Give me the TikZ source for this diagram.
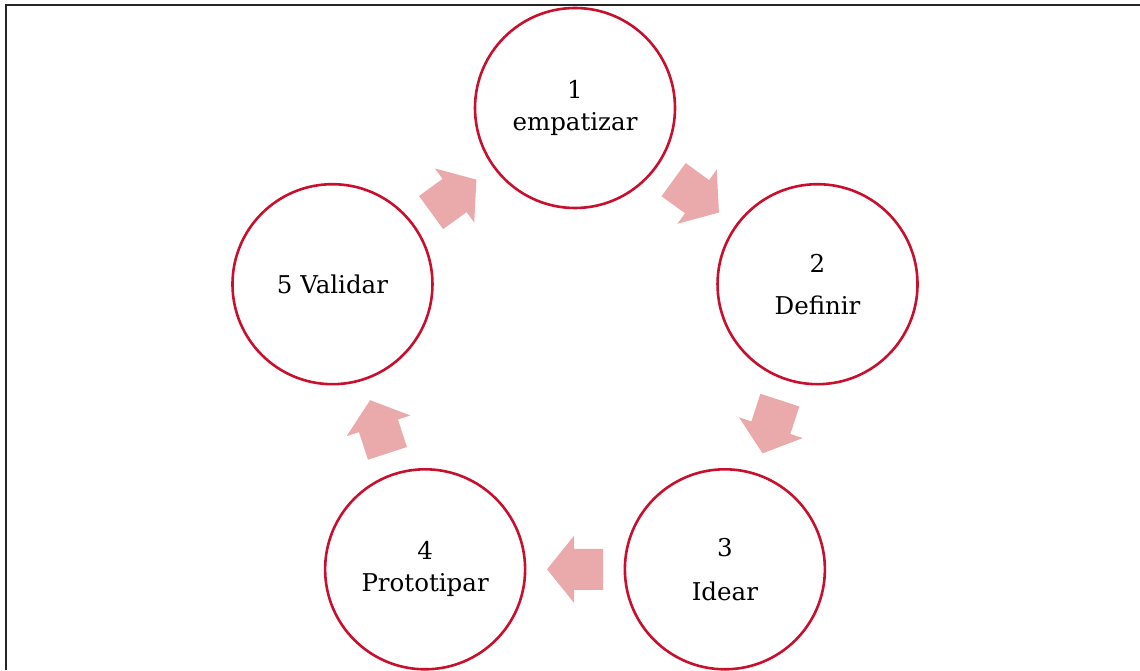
\documentclass[tikz,border=0pt]{standalone}
\usepackage{fontspec}
\setmainfont{DejaVu Serif}
\usetikzlibrary{calc}
\definecolor{ringred}{RGB}{200,16,46}
\definecolor{arrowpink}{RGB}{234,170,172}
\begin{document}
\begin{tikzpicture}[x=1pt,y=1pt,
  stage/.style={circle, draw=ringred, line width=2.6pt, minimum size=200pt, inner sep=0pt,
    align=center, font=\fontsize{24.5}{32}\selectfont},
  blockarrow/.style={fill=arrowpink},
  frameline/.style={line width=2.6pt, black!85}]
\useasboundingbox (0,0) rectangle (1140,670);
\coordinate (fa) at (6,0);
\coordinate (fb) at (6,665);
\coordinate (fc) at (1140,665);
\draw[frameline] (fa) -- (fb) -- (fc);
\coordinate (O) at (575,307);
\node[stage] (s1) at ($(O)+(90:255)$) {1\\empatizar};
\node[stage] (s2) at ($(O)+(18:255)$) {2\\[10pt]Definir};
\node[stage] (s3) at ($(O)+(-54:255)$) {3\\[12pt]Idear};
\node[stage] (s4) at ($(O)+(-126:255)$) {4\\Prototipar};
\node[stage] (s5) at ($(O)+(162:255)$) {5 Validar};
\foreach \a/\b/\ang in {s1/s2/-36, s2/s3/-108, s3/s4/180, s4/s5/108, s5/s1/36} {
  \fill[blockarrow, shift={($(\a)!0.5!(\b)$)}, rotate=\ang]
    (-28,-20.5) -- (1,-20.5) -- (1,-33.5) -- (28,0) -- (1,33.5) -- (1,20.5) -- (-28,20.5) -- cycle;
}
\end{tikzpicture}
\end{document}
